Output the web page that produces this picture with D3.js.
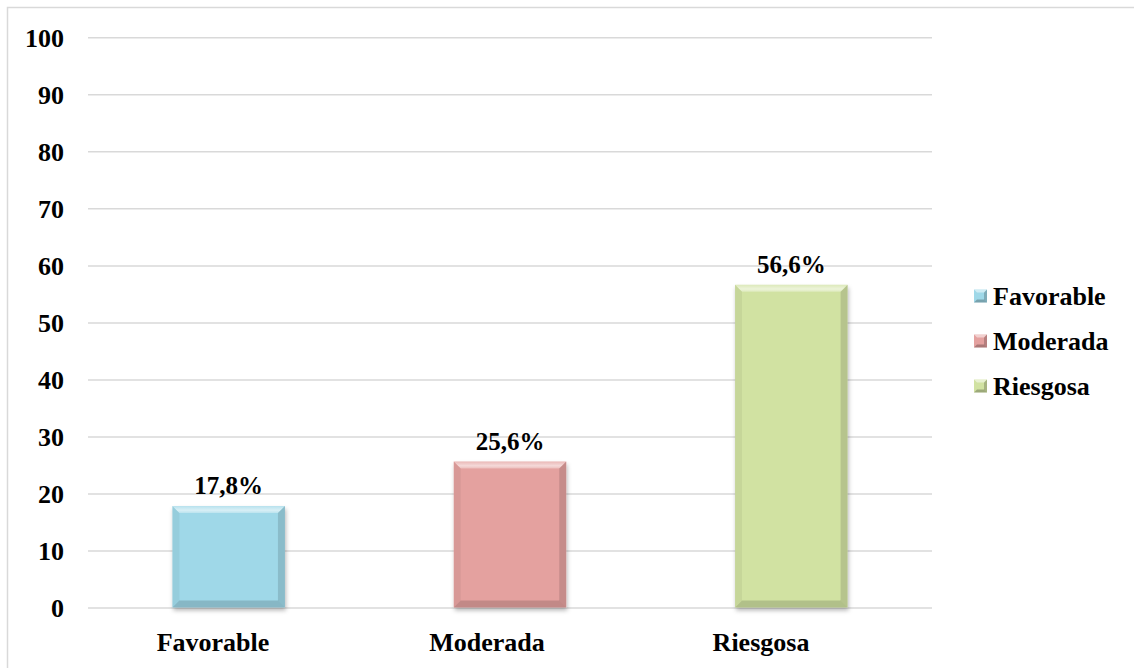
<!DOCTYPE html>
<html>
<head>
<meta charset="utf-8">
<script src="https://cdn.jsdelivr.net/npm/d3@7"></script>
<style>
  html, body { margin: 0; padding: 0; background: #ffffff; }
  svg { display: block; }
  text { font-family: "Liberation Serif", "Times New Roman", serif; font-weight: bold; fill: #000; }
</style>
</head>
<body>
<svg id="chart" width="1134" height="668"></svg>
<script>
// Chart data
const categories = ["Favorable", "Moderada", "Riesgosa"];
const values = [17.8, 25.6, 56.6];
const valueLabels = ["17,8%", "25,6%", "56,6%"];
const barColors = ["#9fd8e8", "#e4a19f", "#d1e2a2"];
const yTicks = [0, 10, 20, 30, 40, 50, 60, 70, 80, 90, 100];

const svg = d3.select("#chart");
const W = 1134, H = 668;
const plot = { left: 88, right: 932, top: 37.3, bottom: 607.5 };

// Outer chart frame
svg.append("rect")
  .attr("x", 7.5).attr("y", 7.5)
  .attr("width", W + 20).attr("height", H + 20)
  .attr("fill", "none").attr("stroke", "#d9d9d9").attr("stroke-width", 1.5);

const x = d3.scaleBand()
  .domain(categories)
  .range([plot.left, plot.right])
  .paddingInner(0.6)
  .paddingOuter(0.3);

// Category captions sit on a slightly narrower band scale
const xLabel = d3.scaleBand()
  .domain(categories)
  .range([plot.left - 12, plot.right - 34]);

const y = d3.scaleLinear()
  .domain([0, 100])
  .range([plot.bottom, plot.top]);

// Shadow filter and bevel gradients for the bars
const defs = svg.append("defs");
const f = defs.append("filter").attr("id", "shadow")
  .attr("x", "-10%").attr("y", "-10%").attr("width", "125%").attr("height", "125%");
f.append("feDropShadow")
  .attr("dx", 1).attr("dy", 3).attr("stdDeviation", 2.2)
  .attr("flood-color", "#000").attr("flood-opacity", 0.28);

const topGrad = defs.append("linearGradient").attr("id", "topBevel")
  .attr("x1", 0).attr("y1", 0).attr("x2", 0).attr("y2", 1);
topGrad.append("stop").attr("offset", "0%").attr("stop-color", "#fff").attr("stop-opacity", 0.25);
topGrad.append("stop").attr("offset", "60%").attr("stop-color", "#fff").attr("stop-opacity", 0.6);
topGrad.append("stop").attr("offset", "100%").attr("stop-color", "#fff").attr("stop-opacity", 0.3);

// Gridlines and value labels on the y axis
const yAxis = d3.axisLeft(y)
  .tickValues(yTicks)
  .tickSize(-(plot.right - plot.left))
  .tickPadding(24)
  .tickFormat(d3.format("d"));

const gy = svg.append("g")
  .attr("transform", `translate(${plot.left},0)`)
  .call(yAxis);
gy.select(".domain").remove();
gy.selectAll(".tick line")
  .attr("stroke", "#d9d9d9")
  .attr("stroke-width", 1.5);
gy.selectAll(".tick text")
  .attr("font-size", 26)
  .attr("dy", "0.34em");

// Bars with bevelled edges
const bev = 7;
const bars = svg.append("g");
categories.forEach((c, i) => {
  const x0 = x(c), w = x.bandwidth();
  const y0 = y(values[i]), h = y(0) - y(values[i]);
  const g = bars.append("g");
  g.append("rect")
    .attr("x", x0).attr("y", y0).attr("width", w).attr("height", h)
    .attr("fill", barColors[i])
    .attr("filter", "url(#shadow)");
  const pts = (arr) => arr.map(p => p.join(",")).join(" ");
  // top edge highlight
  g.append("polygon")
    .attr("points", pts([[x0, y0], [x0 + w, y0], [x0 + w - bev, y0 + bev], [x0 + bev, y0 + bev]]))
    .attr("fill", "url(#topBevel)");
  // left edge
  g.append("polygon")
    .attr("points", pts([[x0, y0], [x0 + bev, y0 + bev], [x0 + bev, y0 + h - bev], [x0, y0 + h]]))
    .attr("fill", "#000000").attr("opacity", 0.05);
  // right edge
  g.append("polygon")
    .attr("points", pts([[x0 + w, y0], [x0 + w, y0 + h], [x0 + w - bev, y0 + h - bev], [x0 + w - bev, y0 + bev]]))
    .attr("fill", "#000000").attr("opacity", 0.13);
  // bottom edge
  g.append("polygon")
    .attr("points", pts([[x0, y0 + h], [x0 + bev, y0 + h - bev], [x0 + w - bev, y0 + h - bev], [x0 + w, y0 + h]]))
    .attr("fill", "#000000").attr("opacity", 0.15);

  // value label above the bar
  svg.append("text")
    .attr("x", x0 + w / 2)
    .attr("y", y0 - 12)
    .attr("text-anchor", "middle")
    .attr("font-size", 25)
    .text(valueLabels[i]);
});

// Category labels under the axis
const xAxis = d3.axisBottom(xLabel).tickSize(0).tickPadding(25);
const gx = svg.append("g")
  .attr("transform", `translate(0,${plot.bottom})`)
  .call(xAxis);
gx.select(".domain").remove();
gx.selectAll(".tick text").attr("font-size", 26);

// Legend
const legend = svg.append("g").attr("transform", "translate(974,0)");
categories.forEach((c, i) => {
  const cy = 296 + i * 45;
  const s = 13, b = 3;
  const lg = legend.append("g");
  lg.append("rect").attr("x", 0).attr("y", cy - s / 2).attr("width", s).attr("height", s)
    .attr("fill", barColors[i]);
  lg.append("polygon")
    .attr("points", `0,${cy - s / 2} ${s},${cy - s / 2} ${s - b},${cy - s / 2 + b} ${b},${cy - s / 2 + b}`)
    .attr("fill", "#fff").attr("opacity", 0.5);
  lg.append("polygon")
    .attr("points", `${s},${cy - s / 2} ${s},${cy + s / 2} ${s - b},${cy + s / 2 - b} ${s - b},${cy - s / 2 + b}`)
    .attr("fill", "#000").attr("opacity", 0.2);
  lg.append("polygon")
    .attr("points", `0,${cy + s / 2} ${b},${cy + s / 2 - b} ${s - b},${cy + s / 2 - b} ${s},${cy + s / 2}`)
    .attr("fill", "#000").attr("opacity", 0.25);
  lg.append("text")
    .attr("x", s + 6).attr("y", cy)
    .attr("dy", "0.34em")
    .attr("font-size", 26)
    .text(c);
});
</script>
</body>
</html>
